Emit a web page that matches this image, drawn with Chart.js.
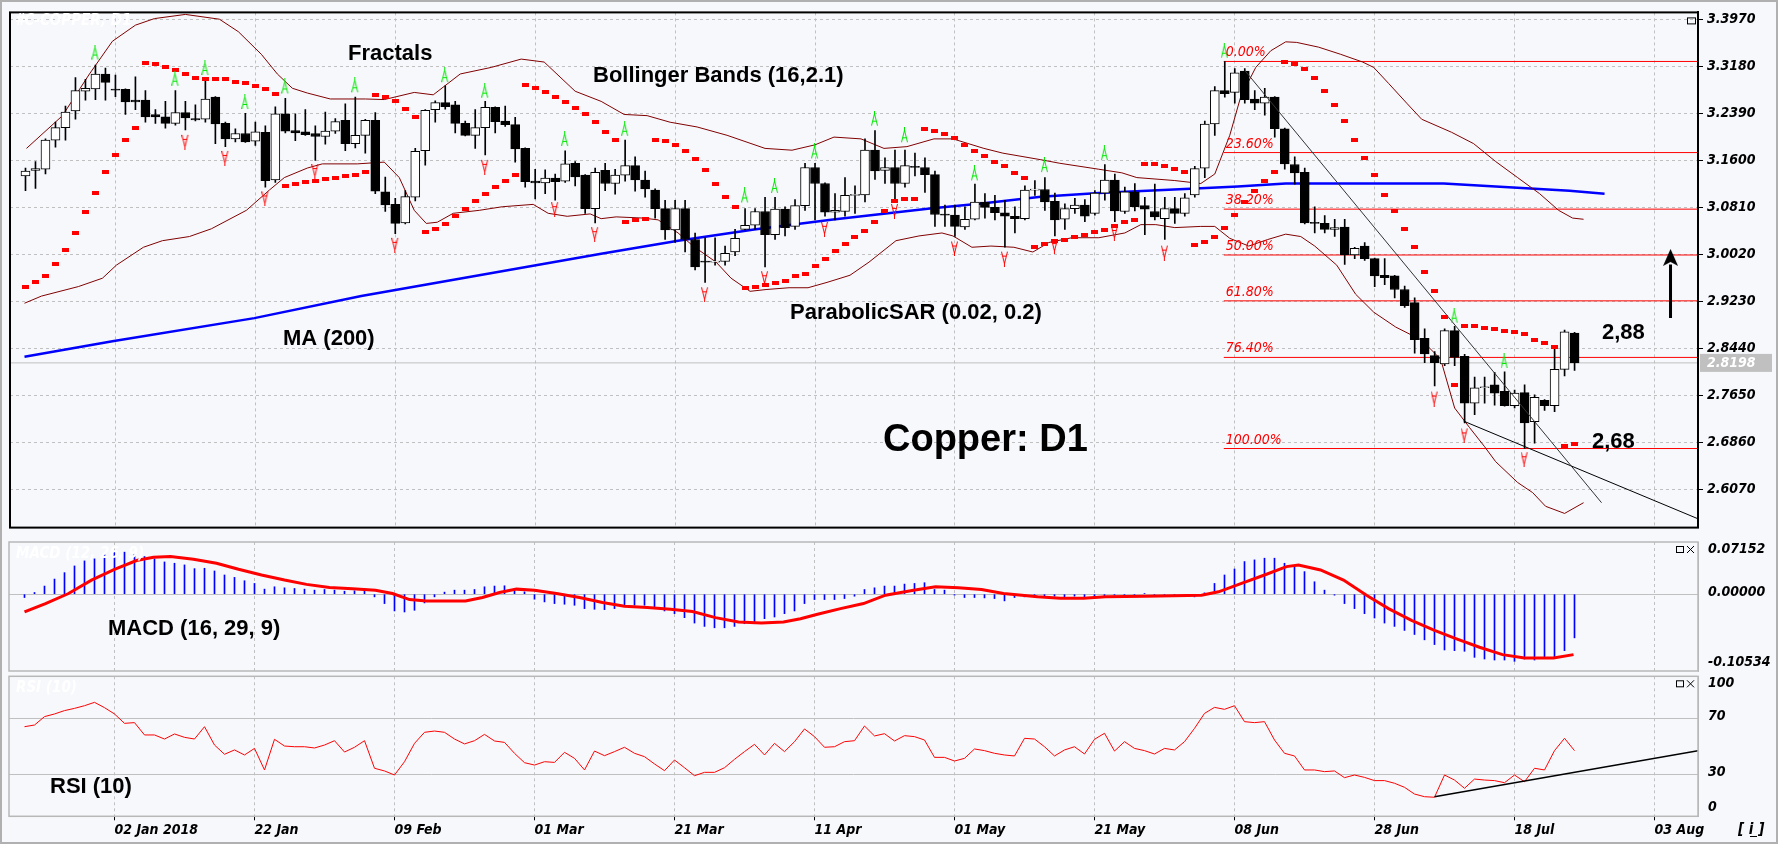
<!DOCTYPE html>
<html>
<head>
<meta charset="utf-8">
<title>Copper: D1</title>
<script src="https://cdn.jsdelivr.net/npm/chart.js@4.4.1/dist/chart.umd.min.js"></script>
<style>
  html, body { margin: 0; padding: 0; background: #f6f8fc; }
  body { width: 1778px; height: 844px; position: relative; overflow: hidden; }
  canvas { position: absolute; left: 0; }
  #frame { position: absolute; left: 0; top: 0; width: 1778px; height: 844px; box-sizing: border-box;
           border: 2px solid #b0b0b0; pointer-events: none; }
</style>
</head>
<body>
<canvas id="mainChart" width="1778" height="540" style="top:0"></canvas>
<canvas id="macdChart" width="1778" height="135" style="top:540px"></canvas>
<canvas id="rsiChart" width="1778" height="169" style="top:675px"></canvas>
<div id="frame"></div>
<script>
// ---- values ----
const dateLabels = ['02 Jan 2018', '22 Jan', '09 Feb', '01 Mar', '21 Mar', '11 Apr', '01 May', '21 May', '08 Jun', '28 Jun', '18 Jul', '03 Aug'];
const dateBars = [9, 23, 37, 51, 65, 79, 93, 107, 121, 135, 149, 163];
const priceTicks = [3.397, 3.318, 3.239, 3.160, 3.081, 3.002, 2.923, 2.844, 2.765, 2.686, 2.607];

const candleOpen = [3.134,3.143,3.145,3.194,3.215,3.243,3.276,3.280,3.305,3.279,
  3.279,3.261,3.261,3.237,3.233,3.222,3.240,3.230,3.229,3.266,
  3.222,3.196,3.205,3.192,3.207,3.127,3.238,3.210,3.208,3.205,
  3.200,3.209,3.227,3.188,3.202,3.227,3.107,3.086,3.055,3.098,
  3.176,3.245,3.257,3.253,3.222,3.202,3.215,3.249,3.226,3.220,
  3.180,3.125,3.122,3.130,3.125,3.155,3.135,3.079,3.143,3.121,
  3.135,3.151,3.127,3.110,3.079,3.043,3.079,3.027,2.990,2.989,
  2.990,3.006,3.044,3.051,3.074,3.035,3.078,3.049,3.084,3.148,
  3.121,3.073,3.074,3.101,3.102,3.177,3.143,3.148,3.121,3.150,
  3.148,3.136,3.069,3.068,3.048,3.061,3.090,3.081,3.072,3.066,
  3.062,3.110,3.111,3.091,3.061,3.079,3.085,3.071,3.105,3.127,
  3.074,3.107,3.084,3.074,3.062,3.079,3.071,3.102,3.147,3.221,
  3.277,3.274,3.310,3.263,3.256,3.266,3.213,3.153,3.140,3.055,
  3.054,3.044,3.048,3.001,3.016,2.995,2.967,2.966,2.943,2.921,
  2.861,2.832,2.818,2.874,2.831,2.752,2.778,2.783,2.772,2.748,
  2.770,2.721,2.757,2.748,2.809,2.870];
const candleHigh = [3.147,3.158,3.196,3.224,3.251,3.299,3.296,3.320,3.315,3.303,
  3.280,3.300,3.277,3.245,3.259,3.277,3.259,3.253,3.296,3.267,
  3.224,3.213,3.239,3.224,3.218,3.250,3.264,3.238,3.245,3.218,
  3.241,3.230,3.255,3.266,3.229,3.240,3.132,3.096,3.109,3.180,
  3.245,3.260,3.285,3.259,3.226,3.245,3.259,3.250,3.251,3.232,
  3.181,3.145,3.144,3.137,3.176,3.158,3.136,3.147,3.155,3.145,
  3.194,3.166,3.142,3.112,3.093,3.093,3.093,3.038,3.030,3.030,
  3.016,3.044,3.079,3.079,3.098,3.098,3.082,3.094,3.155,3.155,
  3.122,3.104,3.131,3.117,3.196,3.210,3.164,3.177,3.177,3.172,
  3.164,3.142,3.085,3.085,3.082,3.120,3.104,3.101,3.093,3.082,
  3.117,3.126,3.131,3.105,3.087,3.096,3.094,3.109,3.153,3.137,
  3.115,3.121,3.098,3.120,3.098,3.098,3.104,3.150,3.226,3.284,
  3.326,3.314,3.314,3.277,3.281,3.267,3.214,3.166,3.147,3.082,
  3.067,3.061,3.061,3.014,3.022,2.996,2.995,2.967,2.949,2.929,
  2.877,2.839,2.877,2.881,2.834,2.796,2.796,2.804,2.805,2.774,
  2.783,2.766,2.758,2.845,2.875,2.871];
const candleLow = [3.109,3.113,3.137,3.182,3.194,3.229,3.261,3.262,3.261,3.267,
  3.237,3.245,3.224,3.222,3.214,3.219,3.211,3.226,3.224,3.188,
  3.183,3.191,3.190,3.185,3.115,3.123,3.206,3.193,3.202,3.160,
  3.187,3.205,3.176,3.181,3.172,3.104,3.074,3.037,3.053,3.092,
  3.152,3.224,3.246,3.206,3.201,3.180,3.169,3.206,3.217,3.157,
  3.115,3.095,3.104,3.093,3.123,3.117,3.071,3.055,3.109,3.103,
  3.125,3.108,3.098,3.063,3.027,3.022,3.006,2.976,2.955,2.984,
  2.984,3.000,3.043,3.044,2.981,3.027,3.033,3.044,3.076,3.060,
  3.066,3.060,3.066,3.071,3.090,3.128,3.121,3.093,3.115,3.134,
  3.106,3.049,3.049,3.032,3.044,3.060,3.063,3.060,3.014,3.038,
  3.060,3.101,3.076,3.033,3.044,3.071,3.057,3.068,3.093,3.057,
  3.071,3.075,3.035,3.060,3.027,3.054,3.066,3.098,3.131,3.202,
  3.266,3.256,3.256,3.245,3.236,3.199,3.145,3.120,3.053,3.038,
  3.038,3.032,2.985,2.995,2.992,2.948,2.951,2.929,2.913,2.836,
  2.820,2.781,2.815,2.815,2.719,2.733,2.752,2.749,2.747,2.744,
  2.676,2.685,2.740,2.738,2.798,2.807];
const candleClose = [3.142,3.146,3.194,3.215,3.241,3.277,3.281,3.305,3.291,3.278,
  3.258,3.258,3.233,3.233,3.222,3.240,3.231,3.228,3.263,3.221,
  3.196,3.205,3.191,3.208,3.126,3.238,3.209,3.206,3.203,3.200,
  3.209,3.225,3.188,3.202,3.227,3.108,3.085,3.054,3.099,3.175,
  3.244,3.257,3.250,3.222,3.202,3.215,3.249,3.225,3.220,3.179,
  3.124,3.122,3.130,3.124,3.154,3.132,3.079,3.140,3.121,3.135,
  3.151,3.127,3.112,3.079,3.043,3.079,3.027,2.981,2.989,2.990,
  3.004,3.029,3.051,3.074,3.035,3.078,3.047,3.084,3.148,3.121,
  3.073,3.076,3.101,3.102,3.177,3.142,3.148,3.121,3.151,3.148,
  3.136,3.069,3.068,3.049,3.061,3.090,3.081,3.072,3.066,3.062,
  3.110,3.111,3.090,3.060,3.079,3.085,3.066,3.105,3.127,3.075,
  3.107,3.082,3.078,3.065,3.079,3.071,3.097,3.146,3.221,3.277,
  3.272,3.307,3.262,3.256,3.266,3.213,3.154,3.139,3.055,3.054,
  3.044,3.047,3.001,3.012,2.995,2.966,2.963,2.943,2.916,2.859,
  2.835,2.820,2.874,2.829,2.752,2.778,2.779,2.769,2.748,2.769,
  2.719,2.762,2.748,2.809,2.872,2.8198];

// Parabolic SAR, one dot per bar
const sarValues = [2.947,2.955,2.966,2.986,3.009,3.038,3.074,3.105,3.141,3.169,3.194,3.215,
  3.323,3.321,3.316,3.312,3.305,3.299,3.297,3.297,3.297,3.291,3.289,3.284,3.280,3.271,
  3.117,3.120,3.123,3.125,3.128,3.130,3.133,3.136,3.141,
  3.269,3.266,3.259,3.246,3.233,
  3.040,3.045,3.053,3.067,3.079,3.092,3.104,3.116,3.125,3.135,
  3.286,3.282,3.275,3.267,3.258,3.248,3.238,3.225,3.208,3.194,
  3.057,3.060,3.062,
  3.194,3.192,3.186,3.176,3.163,3.143,3.121,3.099,3.081,
  2.946,2.948,2.951,2.954,2.958,2.965,2.969,2.982,2.995,3.007,3.020,3.032,3.042,3.056,3.075,3.092,3.095,3.095,
  3.212,3.210,3.204,3.197,3.186,3.176,3.168,3.158,3.150,3.139,3.130,
  3.015,3.019,3.025,3.027,3.032,3.035,3.039,3.043,3.049,3.056,3.060,
  3.154,3.153,3.150,3.145,3.140,
  3.018,3.022,3.032,3.046,3.069,3.090,3.109,3.125,3.141,
  3.325,3.321,3.313,3.298,3.277,3.253,3.226,3.194,3.164,3.135,3.102,3.075,3.044,3.014,2.972,2.940,2.897,
  2.783,
  2.881,2.881,2.878,2.876,2.874,2.871,2.868,2.858,2.853,2.846,
  2.680,2.683];

const fractalUpBars = [7,15,18,22,26,33,42,46,54,60,72,75,79,85,88,95,102,108,120,143,148];
const fractalUpValues = [3.341,3.297,3.315,3.258,3.284,3.286,3.303,3.277,3.196,3.213,3.101,3.117,3.175,3.230,3.202,3.138,3.152,3.172,3.344,2.899,2.823];
const fractalDownBars = [16,20,24,29,37,46,53,57,68,74,80,87,93,98,103,109,114,141,144,150];
const fractalDownValues = [3.191,3.164,3.096,3.142,3.018,3.149,3.078,3.036,2.935,2.962,3.045,3.075,3.012,2.995,3.016,3.038,3.005,2.760,2.698,2.658];

// [bar, price]
const bbUpper = [[0.1,3.180],[3.7,3.235],[6.4,3.305],[8.7,3.360],[11,3.387],[12.9,3.398],[16,3.405],[19.4,3.397],
  [21.3,3.376],[23.6,3.338],[25.2,3.305],[26.7,3.281],[28.2,3.273],[30.5,3.263],[34,3.263],[35.9,3.262],
  [38.9,3.274],[40.8,3.270],[43.5,3.305],[46.6,3.316],[49.6,3.330],[51.9,3.325],[55,3.276],[57.6,3.259],
  [59.9,3.237],[62.2,3.235],[64.5,3.224],[67.2,3.216],[70.2,3.202],[74,3.180],[76.7,3.177],[79,3.186],
  [80.9,3.199],[83.6,3.196],[85.9,3.180],[88.2,3.183],[90.9,3.196],[92.8,3.196],[95.9,3.180],[97.8,3.172],
  [101.6,3.161],[103.5,3.155],[107.4,3.145],[109.7,3.139],[111.2,3.131],[115,3.126],[117.6,3.121],[119,3.137],
  [120.5,3.202],[121.6,3.267],[123.1,3.316],[124.6,3.344],[126.1,3.359],[127.2,3.358],[129.4,3.350],[131.6,3.338],
  [133.8,3.325],[134.9,3.316],[136.4,3.289],[138.2,3.256],[139.7,3.229],[142.7,3.207],[144.9,3.188],[147.1,3.158],
  [149.3,3.131],[151.5,3.104],[153.4,3.076],[154.8,3.063],[155.9,3.061]];
const bbLower = [[-0.1,2.920],[1.6,2.932],[5.3,2.948],[7.7,2.962],[9.1,2.984],[11.8,3.014],[13.7,3.025],[16.4,3.032],[18.6,3.045],
  [22.1,3.076],[24.4,3.110],[25.9,3.131],[28.2,3.147],[29.7,3.154],[33.2,3.154],[35.9,3.157],[37.4,3.131],
  [38.9,3.076],[40.1,3.054],[41.2,3.056],[42.8,3.071],[45.4,3.076],[47.7,3.082],[50.8,3.086],[52.3,3.071],
  [54.2,3.066],[56.5,3.070],[57.6,3.062],[59.1,3.065],[61.8,3.063],[63.3,3.060],[65.3,3.038],[66.8,3.016],
  [69.1,2.989],[70.6,2.962],[72.5,2.940],[74.1,2.943],[76.4,2.946],[78.3,2.946],[80.2,2.955],[82.5,2.967],
  [84.4,2.989],[87.1,3.025],[89.4,3.033],[91.7,3.038],[92.8,3.033],[94.7,3.014],[96.6,3.016],[98.9,3.014],
  [100.8,3.006],[102.4,3.022],[104.7,3.030],[107.4,3.030],[110,3.038],[111.6,3.052],[113.1,3.052],[115,3.047],
  [117.6,3.049],[119,3.049],[120.5,3.029],[122.4,3.016],[124.3,3.027],[126.1,3.036],[127.6,3.032],[129,3.016],
  [131.2,2.984],[133.1,2.935],[134.9,2.905],[137.1,2.880],[139.7,2.858],[141.6,2.826],[143,2.744],[144.5,2.711],
  [146,2.679],[147.1,2.654],[149.3,2.619],[150.8,2.602],[152.1,2.579],[154,2.567],[155.9,2.585]];
const ma200 = [[-0.1,2.830],[8.7,2.856],[22.9,2.895],[33.6,2.932],[45.4,2.967],[57.6,3.003],[65.3,3.025],[72.9,3.044],
  [80.6,3.060],[90.5,3.079],[95.9,3.088],[101.6,3.099],[107.4,3.105],[117.6,3.113],[121.3,3.116],[126.1,3.121],
  [141.9,3.121],[147.1,3.116],[154.5,3.109],[158,3.104]];

const fibLabels = ['0.00%', '23.60%', '38.20%', '50.00%', '61.80%', '76.40%', '100.00%'];
const fibPrices = [3.326, 3.173, 3.078, 3.001, 2.924, 2.829, 2.676];
const fibStartBar = 119.9;
const trendLine1 = [[122, 3.311], [157.7, 2.585]];
const trendLine2 = [[143.9, 2.722], [167.35, 2.558]];
const arrowShaft = [[164.6, 2.895], [164.6, 2.985]];
const arrowTip = [164.6, 2.997];
const lastPrice = 2.8198;

const macdTicks = [0.07152, 0, -0.10534];
const macdHist = [-0.0046,0.0023,0.0111,0.0207,0.0295,0.0387,0.0456,0.0484,0.0539,0.0571,
  0.0576,0.0548,0.0516,0.0484,0.0442,0.0424,0.0401,0.0350,0.0355,0.0318,
  0.0263,0.0230,0.0184,0.0147,0.0069,0.0101,0.0087,0.0078,0.0069,0.0055,
  0.0064,0.0055,0.0041,0.0046,0.0055,-0.0037,-0.0129,-0.0230,-0.0244,-0.0221,
  -0.0120,-0.0037,0.0028,0.0055,0.0055,0.0064,0.0101,0.0111,0.0115,0.0055,
  0.0032,-0.0069,-0.0106,-0.0129,-0.0138,-0.0152,-0.0198,-0.0207,-0.0212,-0.0198,
  -0.0152,-0.0152,-0.0152,-0.0198,-0.0230,-0.0267,-0.0322,-0.0396,-0.0442,-0.0461,
  -0.0461,-0.0442,-0.0405,-0.0405,-0.0336,-0.0313,-0.0267,-0.0230,-0.0129,-0.0074,
  -0.0074,-0.0074,-0.0060,-0.0028,0.0064,0.0087,0.0111,0.0111,0.0138,0.0147,
  0.0157,0.0064,0.0055,-0.0014,-0.0046,-0.0046,-0.0051,-0.0060,-0.0092,-0.0046,
  -0.0037,-0.0028,-0.0037,-0.0028,-0.0037,-0.0028,-0.0046,-0.0037,-0.0028,-0.0014,
  -0.0018,-0.0009,0.0009,-0.0014,-0.0018,-0.0023,-0.0028,-0.0037,0.0018,0.0147,
  0.0263,0.0345,0.0447,0.0470,0.0493,0.0493,0.0424,0.0378,0.0309,0.0170,
  0.0055,-0.0014,-0.0129,-0.0198,-0.0267,-0.0327,-0.0396,-0.0442,-0.0497,-0.0553,
  -0.0626,-0.0691,-0.0765,-0.0774,-0.0783,-0.0866,-0.0889,-0.0903,-0.0903,-0.0921,
  -0.0889,-0.0903,-0.0875,-0.0875,-0.0774,-0.0599];
const macdSignal = [[0,-0.0244],[2.1,-0.0129],[4.4,0.0009],[6.7,0.0193],[9,0.0341],[11.2,0.0461],[12.9,0.0507],
  [14.6,0.0516],[16.9,0.0479],[19.2,0.0424],[21.4,0.0341],[23.7,0.0263],[26,0.0193],[28.2,0.0134],[30.5,0.0092],
  [32.8,0.0074],[35.1,0.0055],[36.8,0.0009],[38.5,-0.0074],[40.2,-0.0092],[44.1,-0.0092],[45.8,-0.0046],
  [47.5,0.0023],[49.2,0.0069],[51,0.0055],[53.2,0.0009],[55.5,-0.0046],[57.8,-0.0115],[60,-0.0166],[62.3,-0.0184],
  [64.6,-0.0207],[66.8,-0.0239],[69.1,-0.0322],[71.4,-0.0382],[73.7,-0.0396],[75.9,-0.0382],[77.6,-0.0336],
  [79.3,-0.0276],[81.6,-0.0198],[83.9,-0.0129],[86.1,-0.0014],[88.9,0.0055],[91.1,0.0101],[93.4,0.0088],
  [95.7,0.0064],[97.9,0.0009],[101.3,-0.0037],[103.6,-0.0055],[105.9,-0.0055],[108.1,-0.0037],[112.1,-0.0028],
  [117.7,-0.0014],[119.4,0.0032],[121.7,0.0147],[124,0.0263],[126.2,0.0378],[127.4,0.0401],[129.6,0.0332],
  [131.9,0.0193],[134.2,-0.0014],[136.4,-0.0198],[138.7,-0.0359],[141,-0.0497],[143.2,-0.0613],[145.5,-0.0728],
  [147.8,-0.0829],[150,-0.0875],[152.9,-0.0875],[154.9,-0.0829]];

const rsiTicks = [100, 70, 30, 0];
const rsiValues = [64.0,65.2,71.2,73.1,75.5,77.1,79.0,81.4,77.6,73.1,
  66.4,66.9,58.1,58.1,55.2,58.8,56.4,55.2,64.0,50.9,
  44.3,47.4,43.8,48.5,33.1,55.0,50.2,49.7,49.7,48.8,
  50.9,54.0,45.9,49.3,54.0,34.3,32.4,29.5,39.0,52.1,
  60.0,60.9,60.0,55.2,51.7,54.0,58.5,53.8,52.8,45.0,
  38.3,36.6,39.0,38.5,45.7,41.4,33.1,46.6,43.3,46.2,
  49.3,45.0,42.6,37.4,32.6,40.2,34.7,29.0,31.4,31.4,
  34.7,40.7,46.2,51.4,43.8,52.1,46.2,53.3,62.4,56.9,
  49.3,49.7,53.3,54.0,64.5,57.4,59.0,53.8,57.6,56.9,
  54.5,42.1,42.1,39.5,41.4,48.1,46.9,45.0,43.8,43.1,
  55.7,55.2,49.7,43.1,47.4,49.7,44.5,55.0,59.3,46.6,
  53.3,48.5,46.9,44.5,48.5,47.4,53.3,62.8,73.5,77.8,
  76.4,79.0,67.6,66.9,67.6,54.5,45.0,43.1,33.1,33.1,
  31.9,32.4,27.6,29.5,27.8,25.5,25.5,23.6,20.7,15.9,
  14.0,13.6,29.5,25.9,20.0,26.6,25.9,25.5,24.0,29.5,
  24.7,34.3,33.1,46.9,55.7,46.9];
const rsiTrend = [[141, 14.0], [167.35, 46.9]];

// ---- styling ----
const X_MIN = -1.55, X_MAX = 167.35;
const GRID = '#c0c0c0';
const CONDENSED = "'DejaVu Sans Condensed', 'DejaVu Sans', sans-serif";
const BOLD = "'Liberation Sans', Arial, sans-serif";
const AXIS_FONT = { family: CONDENSED, size: 14, style: 'italic', weight: 'bold' };

const toPoints = pairs => pairs.map(p => ({ x: p[0], y: p[1] }));

// Small canvases used as point styles
function makeSarDot() {
    const c = document.createElement('canvas');
    c.width = 7; c.height = 4;
    const g = c.getContext('2d');
    g.fillStyle = '#ff0000';
    g.fillRect(0, 0, 7, 4);
    return c;
}

function makeFractal(color, up) {
    const c = document.createElement('canvas');
    c.width = 8; c.height = 16;
    const g = c.getContext('2d');
    if (!up) { g.translate(0, 16); g.scale(1, -1); }
    g.strokeStyle = color;
    g.lineWidth = 1;
    g.beginPath();
    g.moveTo(3.5, 0); g.lineTo(3.5, 5);
    g.moveTo(3.5, 3); g.lineTo(0.5, 15);
    g.moveTo(3.5, 3); g.lineTo(6.5, 15);
    g.moveTo(1.5, 10.5); g.lineTo(5.5, 10.5);
    g.stroke();
    return c;
}

function makeArrowHead() {
    const c = document.createElement('canvas');
    c.width = 15; c.height = 17;
    const g = c.getContext('2d');
    g.fillStyle = '#000';
    g.beginPath();
    g.moveTo(7.5, 0); g.lineTo(15, 17); g.lineTo(7.5, 13); g.lineTo(0, 17);
    g.closePath();
    g.fill();
    return c;
}

function xAxis(showLabels) {
    return {
        type: 'linear', min: X_MIN, max: X_MAX, offset: false,
        afterBuildTicks: axis => { axis.ticks = dateBars.map(v => ({ value: v })); },
        afterFit: axis => { axis.height = showLabels ? 22 : 0; },
        grid: { color: GRID, offset: false, drawTicks: showLabels, tickLength: 4, tickColor: '#000' },
        border: { display: false, dash: [3, 3] },
        ticks: {
            display: showLabels, autoSkip: false, maxRotation: 0, align: 'start', padding: 2,
            color: '#000', font: AXIS_FONT, callback: (v, i) => dateLabels[i]
        }
    };
}

function baseOptions(padding, scales, plugins) {
    return {
        responsive: false, animation: false, devicePixelRatio: 1, events: [],
        layout: { padding },
        scales,
        plugins: Object.assign({ legend: { display: false }, tooltip: { enabled: false } }, plugins)
    };
}

function lineSet(data, color, width, order) {
    return { type: 'line', data, borderColor: color, borderWidth: width, pointRadius: 0, tension: 0, fill: false, order };
}

// Frame, side labels and panel captions for the two indicator panels
const panelDecor = {
    id: 'panelDecor',
    afterDraw(chart, args, opts) {
        const { ctx, chartArea: a, scales: { y } } = chart;
        ctx.save();
        ctx.strokeStyle = '#b8b8b8';
        ctx.lineWidth = 1.5;
        ctx.strokeRect(a.left, a.top, a.right - a.left, a.bottom - a.top);

        ctx.font = 'italic bold 14px ' + CONDENSED;
        ctx.fillStyle = '#000';
        ctx.textAlign = 'left';
        ctx.textBaseline = 'middle';
        opts.ticks.forEach((t, i) => {
            let py = y.getPixelForValue(t.value);
            if (i === 0) py += 7; else if (i === opts.ticks.length - 1) py -= 9; else py -= 2;
            ctx.fillText(t.text, a.right + 10, py);
        });

        // faint caption top-left, bold caption inside the panel
        ctx.textBaseline = 'alphabetic';
        ctx.font = 'italic bold 15px ' + CONDENSED;
        ctx.fillStyle = '#ffffff';
        ctx.fillText(opts.ghost, a.left + 7, a.top + 16);
        ctx.font = 'bold 22px ' + BOLD;
        ctx.fillStyle = '#000';
        ctx.fillText(opts.title, opts.titleX, opts.titleY);

        // window buttons
        ctx.strokeStyle = '#000';
        ctx.lineWidth = 1;
        ctx.strokeRect(a.right - 21.5, a.top + 4.5, 7, 6);
        ctx.beginPath();
        ctx.moveTo(a.right - 11, a.top + 4); ctx.lineTo(a.right - 4, a.top + 11);
        ctx.moveTo(a.right - 4, a.top + 4); ctx.lineTo(a.right - 11, a.top + 11);
        ctx.stroke();
        if (opts.info) {
            ctx.font = 'italic bold 15px ' + CONDENSED;
            ctx.fillText('[ i ]', 1738, 159);
            ctx.fillRect(1750, 161, 7, 1);
        }
        ctx.restore();
    }
};

// Text notes, Fibonacci labels and price tag on the main panel
const mainDecor = {
    id: 'mainDecor',
    afterDraw(chart) {
        const { ctx, chartArea: a, scales: { x, y } } = chart;
        ctx.save();
        ctx.strokeStyle = '#000';
        ctx.lineWidth = 2;
        ctx.strokeRect(a.left, a.top, a.right - a.left, a.bottom - a.top);

        ctx.font = 'italic 14px ' + CONDENSED;
        ctx.fillStyle = '#ff0000';
        ctx.textBaseline = 'alphabetic';
        fibLabels.forEach((t, i) => ctx.fillText(t, x.getPixelForValue(fibStartBar) + 2, y.getPixelForValue(fibPrices[i]) - 5));

        ctx.fillStyle = '#000';
        ctx.font = 'bold 22px ' + BOLD;
        [['Fractals', 348, 60], ['Bollinger Bands (16,2.1)', 593, 82], ['MA (200)', 283, 345],
         ['ParabolicSAR (0.02, 0.2)', 790, 319], ['2,88', 1602, 339], ['2,68', 1592, 448]]
            .forEach(n => ctx.fillText(n[0], n[1], n[2]));
        ctx.font = 'bold 38px ' + BOLD;
        ctx.fillText('Copper: D1', 883, 451);

        ctx.font = 'italic bold 15px ' + CONDENSED;
        ctx.fillStyle = '#ffffff';
        ctx.fillText('#C-COPPER, D1', 15, 25);

        // last price tag on the axis
        const py = y.getPixelForValue(lastPrice);
        ctx.fillStyle = '#c0c0c0';
        ctx.fillRect(a.right + 2, py - 9, 72, 18);
        ctx.fillStyle = '#ffffff';
        ctx.font = 'italic bold 14px ' + CONDENSED;
        ctx.textBaseline = 'middle';
        ctx.fillText(lastPrice.toFixed(4), a.right + 9, py);

        ctx.strokeStyle = '#000';
        ctx.lineWidth = 1;
        ctx.strokeRect(a.right - 10.5, a.top + 5.5, 8, 6);
        ctx.restore();
    }
};

// ---- main price chart ----
const bars = candleOpen.map((_, i) => i);
const sarDot = makeSarDot();

new Chart(document.getElementById('mainChart'), {
    type: 'scatter',
    data: {
        datasets: [
            {
                type: 'bar', order: 2, grouped: false, barThickness: 9, minBarLength: 1,
                data: bars.map(i => ({ x: i, y: [candleOpen[i], candleClose[i]] })),
                backgroundColor: bars.map(i => candleClose[i] > candleOpen[i] ? '#ffffff' : '#000000'),
                borderColor: '#000', borderWidth: 1, borderSkipped: false
            },
            {
                type: 'bar', order: 3, grouped: false, barThickness: 1,
                data: bars.map(i => ({ x: i, y: [candleLow[i], candleHigh[i]] })),
                backgroundColor: '#000'
            },
            { type: 'scatter', order: 1, data: bars.map(i => ({ x: i, y: sarValues[i] })), pointStyle: sarDot, pointRadius: 4 },
            { type: 'scatter', order: 0, data: fractalUpBars.map((b, i) => ({ x: b, y: fractalUpValues[i] })), pointStyle: makeFractal('#00e600', true), pointRadius: 8 },
            { type: 'scatter', order: 0, data: fractalDownBars.map((b, i) => ({ x: b, y: fractalDownValues[i] })), pointStyle: makeFractal('#ff0000', false), pointRadius: 8 },
            lineSet(toPoints(bbUpper), '#800000', 1, 5),
            lineSet(toPoints(bbLower), '#800000', 1, 5),
            lineSet(toPoints(ma200), '#0000ff', 2.5, 5),
            ...fibPrices.map(p => lineSet([{ x: fibStartBar, y: p }, { x: X_MAX, y: p }], '#ff0000', 1, 6)),
            lineSet([{ x: X_MIN, y: lastPrice }, { x: X_MAX, y: lastPrice }], GRID, 1, 7),
            lineSet(toPoints(trendLine1), '#333333', 1, 1),
            lineSet(toPoints(trendLine2), '#000000', 1, 1),
            lineSet(toPoints(arrowShaft), '#000000', 3, 0),
            { type: 'scatter', order: 0, data: [{ x: arrowTip[0], y: arrowTip[1] }], pointStyle: makeArrowHead(), pointRadius: 9 }
        ]
    },
    options: baseOptions({ left: 9, top: 7, right: 0, bottom: 4 }, {
        x: xAxis(false),
        y: {
            type: 'linear', position: 'right', min: 2.5432, max: 3.4084,
            afterBuildTicks: axis => { axis.ticks = priceTicks.map(v => ({ value: v })); },
            afterFit: axis => { axis.width = 80; },
            grid: { color: GRID, drawTicks: true, tickLength: 5, tickColor: '#000' },
            border: { color: '#000', width: 2, dash: [3, 3] },
            ticks: { color: '#000', font: AXIS_FONT, padding: 4, callback: v => v.toFixed(4) }
        }
    }, {}),
    plugins: [mainDecor]
});

// ---- MACD panel ----
new Chart(document.getElementById('macdChart'), {
    type: 'scatter',
    data: {
        datasets: [
            { type: 'bar', order: 2, grouped: false, barThickness: 1, backgroundColor: '#0000ff',
              data: macdHist.map((v, i) => ({ x: i, y: v })) },
            lineSet(toPoints(macdSignal), '#ff0000', 3, 1)
        ]
    },
    options: baseOptions({ left: 9, top: 2, right: 0, bottom: 4 }, {
        x: xAxis(false),
        y: {
            type: 'linear', position: 'right', min: -0.10534, max: 0.07152,
            afterBuildTicks: axis => { axis.ticks = macdTicks.map(v => ({ value: v })); },
            afterFit: axis => { axis.width = 80; },
            grid: { color: c => (c.tick && c.tick.value === 0 ? GRID : 'rgba(0,0,0,0)'), drawTicks: false },
            border: { color: '#b8b8b8', width: 1 },
            ticks: { display: false }
        }
    }, {
        panelDecor: {
            ticks: macdTicks.map(v => ({ value: v, text: v.toFixed(5) })),
            ghost: 'MACD (12, 26, 9)', title: 'MACD (16, 29, 9)', titleX: 108, titleY: 95
        }
    }),
    plugins: [panelDecor]
});

// ---- RSI panel ----
new Chart(document.getElementById('rsiChart'), {
    type: 'scatter',
    data: {
        datasets: [
            lineSet(rsiValues.map((v, i) => ({ x: i, y: v })), '#ff0000', 1, 2),
            lineSet(toPoints(rsiTrend), '#000000', 1.5, 1)
        ]
    },
    options: baseOptions({ left: 9, top: 1.3, right: 0, bottom: 5.7 }, {
        x: xAxis(true),
        y: {
            type: 'linear', position: 'right', min: 0, max: 100,
            afterBuildTicks: axis => { axis.ticks = rsiTicks.map(v => ({ value: v })); },
            afterFit: axis => { axis.width = 80; },
            grid: { color: c => (c.tick && (c.tick.value === 30 || c.tick.value === 70) ? GRID : 'rgba(0,0,0,0)'), drawTicks: false },
            border: { color: '#b8b8b8', width: 1 },
            ticks: { display: false }
        }
    }, {
        panelDecor: {
            ticks: rsiTicks.map(v => ({ value: v, text: String(v) })),
            ghost: 'RSI (10)', title: 'RSI (10)', titleX: 50, titleY: 118, info: true
        }
    }),
    plugins: [panelDecor]
});
</script>
</body>
</html>
